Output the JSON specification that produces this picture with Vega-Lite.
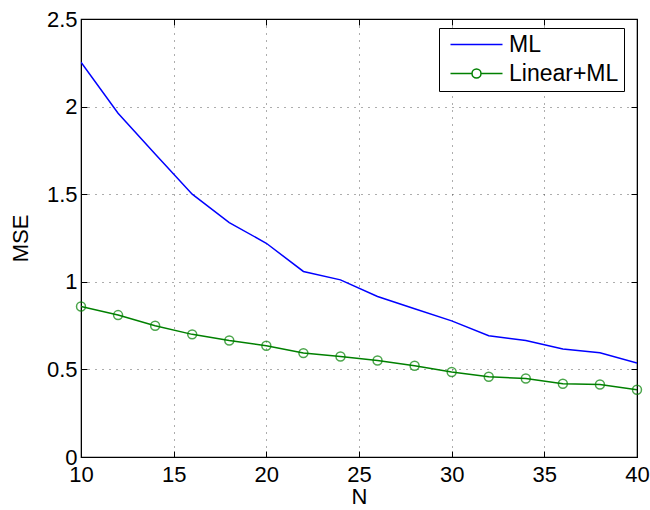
{
  "$schema": "https://vega.github.io/schema/vega-lite/v6.json",
  "width": 556,
  "height": 438,
  "autosize": {"type": "none"},
  "padding": {"left": 81, "top": 19, "right": 13, "bottom": 53},
  "background": "white",
  "config": {
    "view": {"stroke": "black", "strokeWidth": 1.2},
    "font": "Liberation Sans",
    "axis": {
      "labelFont": "Liberation Sans",
      "titleFont": "Liberation Sans",
      "labelFontSize": 22,
      "titleFontSize": 22,
      "titleFontWeight": "normal",
      "labelColor": "black",
      "titleColor": "black",
      "domainColor": "black",
      "tickColor": "black",
      "tickSize": -6,
      "labelFlush": false,
      "labelOverlap": false,
      "gridColor": "#333333",
      "gridDash": [1, 6],
      "gridOpacity": 0.8,
      "gridWidth": 1,
      "format": "~g"
    }
  },
  "data": {
    "values": [
      {"N": 10, "series": "ML", "MSE": 2.253},
      {"N": 12, "series": "ML", "MSE": 1.962},
      {"N": 14, "series": "ML", "MSE": 1.73},
      {"N": 16, "series": "ML", "MSE": 1.50},
      {"N": 18, "series": "ML", "MSE": 1.338},
      {"N": 20, "series": "ML", "MSE": 1.22},
      {"N": 22, "series": "ML", "MSE": 1.059},
      {"N": 24, "series": "ML", "MSE": 1.011},
      {"N": 26, "series": "ML", "MSE": 0.916},
      {"N": 28, "series": "ML", "MSE": 0.846},
      {"N": 30, "series": "ML", "MSE": 0.777},
      {"N": 32, "series": "ML", "MSE": 0.692},
      {"N": 34, "series": "ML", "MSE": 0.665},
      {"N": 36, "series": "ML", "MSE": 0.616},
      {"N": 38, "series": "ML", "MSE": 0.595},
      {"N": 40, "series": "ML", "MSE": 0.536},
      {"N": 10, "series": "Linear+ML", "MSE": 0.859},
      {"N": 12, "series": "Linear+ML", "MSE": 0.810},
      {"N": 14, "series": "Linear+ML", "MSE": 0.749},
      {"N": 16, "series": "Linear+ML", "MSE": 0.700},
      {"N": 18, "series": "Linear+ML", "MSE": 0.665},
      {"N": 20, "series": "Linear+ML", "MSE": 0.635},
      {"N": 22, "series": "Linear+ML", "MSE": 0.593},
      {"N": 24, "series": "Linear+ML", "MSE": 0.574},
      {"N": 26, "series": "Linear+ML", "MSE": 0.551},
      {"N": 28, "series": "Linear+ML", "MSE": 0.521},
      {"N": 30, "series": "Linear+ML", "MSE": 0.485},
      {"N": 32, "series": "Linear+ML", "MSE": 0.458},
      {"N": 34, "series": "Linear+ML", "MSE": 0.448},
      {"N": 36, "series": "Linear+ML", "MSE": 0.418},
      {"N": 38, "series": "Linear+ML", "MSE": 0.414},
      {"N": 40, "series": "Linear+ML", "MSE": 0.384}
    ]
  },
  "layer": [
    {
      "mark": {"type": "line", "strokeWidth": 1.5, "clip": true},
      "encoding": {
        "x": {"field": "N", "type": "quantitative", "scale": {"domain": [10, 40], "nice": false, "zero": false},
              "axis": {"title": "N", "values": [10, 15, 20, 25, 30, 35, 40], "labelPadding": 13, "titlePadding": 1, "grid": true}},
        "y": {"field": "MSE", "type": "quantitative", "scale": {"domain": [0, 2.5], "nice": false},
              "axis": {"title": "MSE", "values": [0, 0.5, 1, 1.5, 2, 2.5], "labelPadding": 10, "titlePadding": 14, "grid": true}},
        "color": {
          "field": "series", "type": "nominal",
          "scale": {"domain": ["ML", "Linear+ML"], "range": ["#0000ff", "#008000"]},
          "legend": {
            "title": null,
            "orient": "none",
            "legendX": 358,
            "legendY": 9,
            "labelFontSize": 23,
            "labelFont": "Liberation Sans",
            "labelColor": "black",
            "symbolSize": 400,
            "symbolOffset": 21,
            "symbolStrokeWidth": 1.5,
            "symbolFillColor": "transparent",
            "rowPadding": 5,
            "padding": 5,
            "labelOffset": 21,
            "strokeColor": "black",
            "fillColor": "white",
            "encode": {
              "symbols": {
                "update": {
                  "shape": {"signal": "datum.value === 'ML' ? 'M-2.6,0H2.6' : 'M-2.6,0H-0.45A0.45,0.45 0 1 1 0.45,0A0.45,0.45 0 1 1 -0.45,0M0.45,0H2.6'"},
                  "fill": {"value": "transparent"}
                }
              }
            }
          }
        }
      }
    },
    {
      "transform": [{"filter": "datum.series === 'Linear+ML'"}],
      "mark": {"type": "point", "shape": "circle", "filled": false, "size": 80, "strokeWidth": 1.5, "color": "#008000"},
      "encoding": {
        "x": {"field": "N", "type": "quantitative", "axis": null},
        "y": {"field": "MSE", "type": "quantitative", "axis": null}
      }
    },
    {
      "mark": {"type": "rule", "opacity": 0},
      "encoding": {
        "x": {"field": "N", "type": "quantitative", "axis": {"orient": "top", "labels": false, "title": null, "grid": false, "values": [10, 15, 20, 25, 30, 35, 40]}},
        "y": {"field": "MSE", "type": "quantitative", "axis": {"orient": "right", "labels": false, "title": null, "grid": false, "values": [0, 0.5, 1, 1.5, 2, 2.5]}}
      }
    }
  ],
  "resolve": {"axis": {"x": "independent", "y": "independent"}}
}
